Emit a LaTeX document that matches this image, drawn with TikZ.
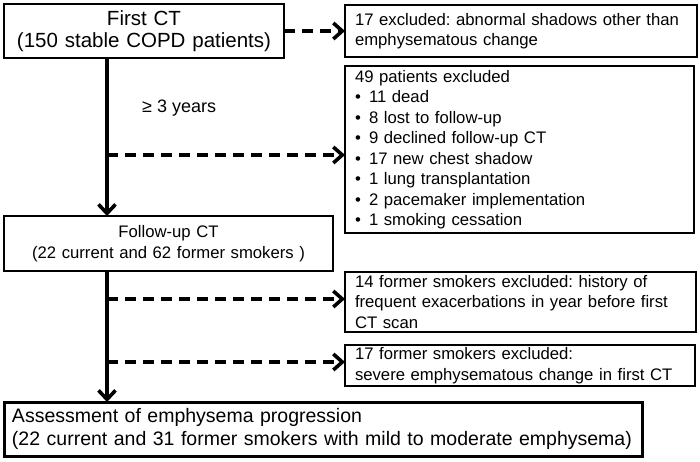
\documentclass[tikz,border=0pt]{standalone}
\usepackage{fontspec}
\setmainfont{Liberation Sans}
\usetikzlibrary{arrows.meta}
\newcommand{\itemdot}{\makebox[14pt][l]{•}}
\frenchspacing
\begin{document}
\begin{tikzpicture}[x=1pt,y=-1pt,
  boxbase/.style={draw=black, fill=white, anchor=north west, inner ysep=0pt, outer sep=0pt},
  bigbox/.style={boxbase, line width=2.6pt, align=center, font=\fontsize{20.5}{22}\selectfont, inner xsep=10pt},
  midbox/.style={boxbase, line width=2.6pt, align=center, font=\fontsize{16.7}{20.5}\selectfont, inner xsep=10pt},
  sidebox/.style={boxbase, line width=1.7pt, align=left, font=\fontsize{16.7}{20.5}\selectfont, inner xsep=10pt},
  endbox/.style={boxbase, line width=3pt, align=left, font=\fontsize{19.5}{22.5}\selectfont, inner xsep=8pt},
  solidarrow/.style={line width=3.6pt, -{Straight Barb[length=9pt,width=17pt]}},
  dasharrow/.style={line width=3.6pt, dash pattern=on 11pt off 7pt, -{Straight Barb[length=9pt,width=16pt]}},
  gaplabel/.style={font=\fontsize{18}{20}\selectfont, anchor=west, inner sep=0pt}
]
\useasboundingbox (0,0) rectangle (700,461);

\node[bigbox, minimum width=280pt, minimum height=54pt, text width=260pt] (first) at (4,4)
  {First CT\\(150 stable COPD patients)};
\node[sidebox, minimum width=352pt, minimum height=52pt, text width=332pt] (excl1) at (345,5)
  {17 excluded: abnormal shadows other than\\emphysematous change};
\node[sidebox, minimum width=349pt, minimum height=167pt, text width=329pt] (excl2) at (345,66)
  {49 patients excluded\\
   \itemdot 11 dead\\
   \itemdot 8 lost to follow-up\\
   \itemdot 9 declined follow-up CT\\
   \itemdot 17 new chest shadow\\
   \itemdot 1 lung transplantation\\
   \itemdot 2 pacemaker implementation\\
   \itemdot 1 smoking cessation};
\node[midbox, minimum width=329pt, minimum height=55pt, text width=309pt] (follow) at (4,216)
  {Follow-up CT\\(22 current and 62 former smokers )};
\node[sidebox, minimum width=351pt, minimum height=60pt, text width=331pt] (excl3) at (345,272)
  {14 former smokers excluded: history of\\frequent exacerbations in year before first\\CT scan};
\node[sidebox, minimum width=350pt, minimum height=41pt, text width=330pt] (excl4) at (345,345)
  {17 former smokers excluded:\\severe emphysematous change in first CT};
\node[endbox, minimum width=638pt, minimum height=54pt, text width=622pt] (assess) at (4,402)
  {Assessment of emphysema progression\\(22 current and 31 former smokers with mild to moderate emphysema)};

\node[gaplabel] (gap) at (142,108) {≥ 3 years};

\coordinate (trunk) at (107,0);
\coordinate (j1) at (107,155);
\coordinate (j2) at (107,299);
\coordinate (j3) at (107,362);

\draw[solidarrow] (first.south -| trunk) -- (follow.north -| trunk);
\draw[solidarrow] (follow.south -| trunk) -- (assess.north -| trunk);
\draw[dasharrow] (first.east) -- (first.east -| excl1.west);
\draw[dasharrow] (j1) -- (j1 -| excl2.west);
\draw[dasharrow] (j2) -- (j2 -| excl3.west);
\draw[dasharrow] (j3) -- (j3 -| excl4.west);
\end{tikzpicture}
\end{document}
